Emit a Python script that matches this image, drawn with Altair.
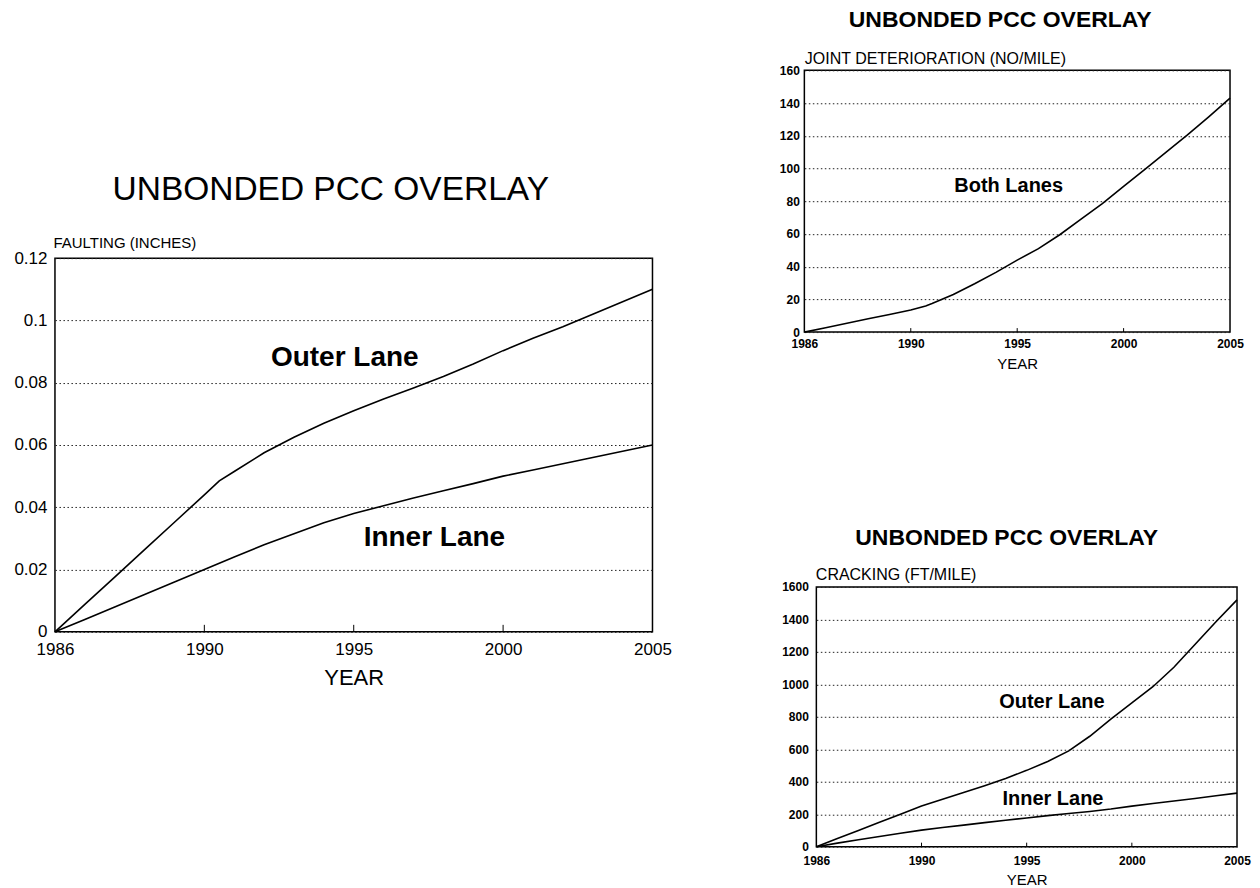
import altair as alt
import pandas as pd

FONT = "Liberation Sans"

# ---------------- data ----------------
# x axis: the plotting frame spans 1985-2005, first tick printed as "1986"
X_TICK_VALUES = [1985, 1990, 1995, 2000, 2005]
X_TICK_LABELS = ["1986", "1990", "1995", "2000", "2005"]
X_INNER_TICKS = [1990, 1995, 2000]

# Faulting (inches)
fault_outer_years = [1985, 1986, 1987, 1988, 1989, 1990, 1990.5, 1991, 1992, 1993, 1994,
                     1995, 1996, 1997, 1998, 1999, 2000, 2001, 2002, 2003, 2004, 2005]
fault_outer = [0, 0.0088, 0.0176, 0.0264, 0.0352, 0.044, 0.0485, 0.0515, 0.0575, 0.0625, 0.067,
               0.071, 0.0748, 0.0783, 0.082, 0.086, 0.0903, 0.0943, 0.098, 0.102, 0.106, 0.110]
fault_inner_years = list(range(1985, 2006))
fault_inner = [0, 0.004, 0.008, 0.012, 0.016, 0.020, 0.024, 0.028, 0.0315, 0.035, 0.038,
               0.0405, 0.043, 0.0453, 0.0476, 0.050, 0.052, 0.054, 0.056, 0.058, 0.060]
fault_y_ticks = [0, 0.02, 0.04, 0.06, 0.08, 0.1, 0.12]
fault_labels = ["Outer Lane", "Inner Lane"]
fault_label_x = [1994.7, 1997.7]
fault_label_y = [0.0853, 0.0277]

# Joint deterioration (no/mile)
joint_years = [1985, 1986, 1987, 1988, 1989, 1990, 1990.7, 1991, 1992, 1993, 1994,
               1995, 1996, 1997, 1998, 1999, 2000, 2001, 2002, 2003, 2004, 2005]
joint_both = [0, 2.7, 5.4, 8.1, 10.8, 13.5, 16, 17.5, 23, 29.5, 36.5,
              44, 51, 59.5, 69, 78.5, 89, 99.5, 110, 120.5, 131.5, 143]
joint_y_ticks = [0, 20, 40, 60, 80, 100, 120, 140, 160]
joint_labels = ["Both Lanes"]
joint_label_x = [1994.6]
joint_label_y = [85.4]

# Cracking (ft/mile)
crack_years = list(range(1985, 2006))
crack_outer = [0, 50, 100, 150, 200, 250, 292, 333, 375, 420, 470,
               525, 590, 680, 785, 885, 985, 1105, 1245, 1385, 1520]
crack_inner = [0, 22, 43, 63, 83, 102, 118, 133, 148, 163, 177,
               191, 204, 217, 232, 250, 266, 281, 297, 314, 330]
crack_y_ticks = [0, 200, 400, 600, 800, 1000, 1200, 1400, 1600]
crack_labels = ["Outer Lane", "Inner Lane"]
crack_label_x = [1996.2, 1996.25]
crack_label_y = [856, 255]

TITLE = "UNBONDED PCC OVERLAY"

# ---------------- helpers ----------------
label_expr = " : ".join(
    f"datum.value == {v} ? '{t}'" for v, t in zip(X_TICK_VALUES, X_TICK_LABELS)
) + " : datum.label"


def series_df(pairs):
    rows = []
    for name, years, vals in pairs:
        for yr, v in zip(years, vals):
            rows.append({"year": yr, "value": v, "lane": name})
    return pd.DataFrame(rows)


def panel(df, labels, lx, ly, y_ticks, y_domain, y_fmt, y_title, width, height, s):
    xscale = alt.Scale(domain=[1985, 2005], nice=False, zero=False)
    yscale = alt.Scale(domain=y_domain, nice=False, zero=True)

    x_axis = alt.Axis(
        values=X_TICK_VALUES, labelExpr=label_expr, ticks=False, tickSize=0,
        domain=False, grid=False, labelFlush=False, labelOverlap=False,
        labelPadding=s["xlp"], labelFont=FONT, labelFontSize=s["lfs"],
        labelFontWeight=s["lfw"], labelColor="black",
        title="YEAR", titleFont=FONT, titleFontSize=s["xtfs"], titleFontWeight="normal",
        titleColor="black", titleX=width / 2, titleY=s["xty"], titleBaseline="alphabetic",
    )
    y_axis = alt.Axis(
        values=y_ticks, format=y_fmt, ticks=False, tickSize=0, domain=False,
        grid=True, gridDash=[1.5, 2.5], gridColor="#222222", gridWidth=1,
        labelFlush=False, labelOverlap=False, labelPadding=s["ylp"],
        labelFont=FONT, labelFontSize=s["lfs"], labelFontWeight=s["lfw"], labelColor="black",
        title=y_title, titleFont=FONT, titleFontSize=s["ytfs"], titleFontWeight="normal",
        titleColor="black", titleAngle=0, titleAlign="left", titleBaseline="alphabetic",
        titleX=s["ytx"], titleY=s["yty"],
    )
    lines = alt.Chart(df).mark_line(color="black", strokeWidth=1.6).encode(
        x=alt.X("year:Q", scale=xscale, axis=x_axis),
        y=alt.Y("value:Q", scale=yscale, axis=y_axis),
        detail="lane:N",
    )
    ldf = pd.DataFrame({"x": lx, "y": ly, "t": labels})
    texts = alt.Chart(ldf).mark_text(
        font=FONT, fontSize=s["afs"], fontWeight="bold", color="black",
        align="center", baseline="alphabetic",
    ).encode(
        x=alt.X("x:Q", scale=xscale, axis=None),
        y=alt.Y("y:Q", scale=yscale, axis=None),
        text="t:N",
    )
    tdf = pd.DataFrame({"year": X_INNER_TICKS})
    inner_ticks = alt.Chart(tdf).mark_rule(color="black", strokeWidth=1).encode(
        x=alt.X("year:Q", scale=xscale, axis=None),
        y=alt.value(height),
        y2=alt.value(height - s["tick"]),
    )
    return alt.layer(lines, texts, inner_ticks).resolve_axis(
        x="independent", y="independent"
    ).properties(
        width=width, height=height,
        view=alt.ViewBackground(stroke="black", strokeWidth=1.5),
        title=alt.TitleParams(
            TITLE, font=FONT, fontSize=s["tfs"], fontWeight=s["tfw"], color="black",
            anchor="middle", frame="group", baseline="alphabetic",
            offset=s["toff"], dx=s["tdx"],
        ),
    )


def spacer(w, h):
    return alt.Chart(pd.DataFrame({"v": [0]})).mark_point(opacity=0, size=1).encode(
        x=alt.X("v:Q", axis=None), y=alt.Y("v:Q", axis=None),
    ).properties(width=w, height=h, view=alt.ViewBackground(strokeOpacity=0))


fault_df = series_df([("Outer", fault_outer_years, fault_outer),
                      ("Inner", fault_inner_years, fault_inner)])
joint_df = series_df([("Both", joint_years, joint_both)])
crack_df = series_df([("Outer", crack_years, crack_outer),
                      ("Inner", crack_years, crack_inner)])

big = dict(xlp=10, lfs=17, lfw="normal", xtfs=22, xty=53, ylp=8, ytfs=15, ytx=-2, yty=-11,
           afs=28, tick=7, tfs=33.5, tfw="normal", toff=2, tdx=-23)
small_top = dict(xlp=6, lfs=12, lfw="bold", xtfs=15, xty=36, ylp=5, ytfs=16, ytx=0, yty=-7,
                 afs=20, tick=4, tfs=23, tfw="bold", toff=0, tdx=-17)
small_bot = dict(xlp=9, lfs=12, lfw="bold", xtfs=15, xty=38, ylp=8, ytfs=16, ytx=-1, yty=-7,
                 afs=20, tick=4, tfs=23, tfw="bold", toff=-1, tdx=-20)

left = panel(fault_df, fault_labels, fault_label_x, fault_label_y, fault_y_ticks, [0, 0.12],
             ".2~f", "FAULTING (INCHES)", 598, 374, big)
top_right = panel(joint_df, joint_labels, joint_label_x, joint_label_y, joint_y_ticks, [0, 160],
                  "d", "JOINT DETERIORATION (NO/MILE)", 426, 262, small_top)
bot_right = panel(crack_df, crack_labels, crack_label_x, crack_label_y, crack_y_ticks, [0, 1600],
                  "d", "CRACKING (FT/MILE)", 421, 260, small_bot)

left_col = alt.vconcat(spacer(10, 101), left, spacing=0)
top_row = alt.hconcat(spacer(20, 10), top_right, spacing=0)
bot_row = alt.hconcat(spacer(20, 10), bot_right, spacing=2)
right_col = alt.vconcat(top_row, bot_row, spacing=154)

chart = alt.hconcat(left_col, right_col, spacing=86).properties(
    padding={"left": 5, "top": 0, "right": 0, "bottom": 0},
    background="white",
).configure_view(stroke="transparent")

chart.save("out.html", embed_options={"renderer": "svg", "actions": False})
